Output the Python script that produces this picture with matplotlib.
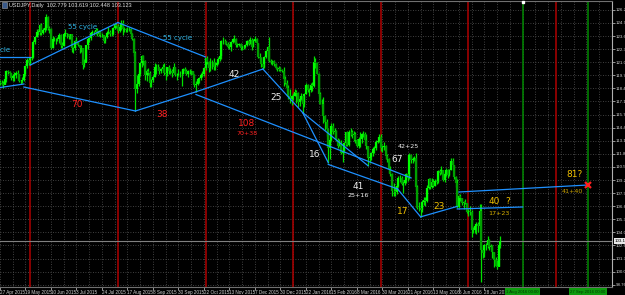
import numpy as np
import matplotlib
matplotlib.use('Agg')
from matplotlib import pyplot as plt
from matplotlib.transforms import blended_transform_factory

# Daily USDJPY bars, 27 Apr 2015 .. 12 Jul 2016, one row per week.
closes = [
    119.0, 118.9, 118.8, 119.4, 120.2,
    120.1, 120.0, 119.5, 119.7, 119.8,
    120.0, 119.9, 119.2, 119.2, 119.3,
    119.9, 120.7, 121.3, 121.0, 121.5,
    121.6, 123.1, 123.6, 124.1, 124.1,
    124.8, 124.0, 124.3, 124.5, 125.6,
    124.5, 124.4, 122.5, 123.4, 123.4,
    123.4, 123.4, 123.8, 122.8, 122.7,
    123.9, 124.0, 123.9, 123.7, 123.9,
    122.5, 122.5, 123.2, 123.1, 122.8,
    122.5, 122.5, 120.8, 121.0, 122.8,
    123.4, 123.5, 124.0, 124.1, 124.1,
    124.3, 123.9, 124.2, 123.8, 123.8,
    123.2, 123.6, 124.0, 124.1, 123.9,
    123.9, 124.5, 124.8, 124.7, 124.2,
    124.6, 125.0, 124.4, 124.4, 124.3,
    124.4, 124.4, 123.9, 123.4, 122.0,
    118.4, 118.9, 119.9, 121.0, 121.7,
    121.2, 119.8, 120.2, 120.0, 119.0,
    119.3, 119.6, 120.6, 120.6, 120.6,
    120.2, 120.4, 120.6, 120.0, 119.9,
    120.6, 120.2, 120.2, 120.0, 120.6,
    119.8, 119.8, 119.9, 119.9, 119.9,
    120.4, 120.2, 119.9, 120.2, 120.2,
    120.2, 119.8, 118.8, 118.9, 119.4,
    119.5, 119.8, 119.9, 120.5, 121.5,
    121.1, 120.5, 121.1, 121.1, 120.6,
    120.8, 121.0, 121.4, 121.7, 123.2,
    123.2, 123.2, 122.9, 122.6, 122.6,
    123.1, 123.4, 123.4, 122.8, 122.8,
    122.9, 122.5, 122.6, 122.6, 122.8,
    123.2, 122.9, 123.3, 122.6, 123.2,
    123.4, 123.0, 121.6, 121.5, 120.9,
    120.6, 121.6, 122.2, 122.6, 121.2,
    121.1, 121.2, 120.9, 120.5,
    120.4, 120.5, 120.3, 120.2,
    119.4, 119.0, 118.5, 117.7, 117.3,
    117.7, 117.7, 118.1, 118.0, 117.0,
    117.3, 117.7, 116.8, 117.9, 118.8,
    118.3, 118.3, 118.8, 118.7, 121.1,
    121.0, 119.9, 117.9, 116.8, 116.8,
    115.6, 115.0, 114.3, 112.4, 113.2,
    114.6, 114.0, 114.1, 113.2, 112.6,
    112.9, 111.9, 112.1, 112.9, 114.0,
    112.7, 114.0, 114.0, 113.7, 113.8,
    113.2, 112.6, 113.3, 113.3, 113.8,
    113.8, 113.2, 112.6, 111.4, 111.5,
    111.9, 112.3, 112.4, 113.0, 113.1,
    113.5, 112.4, 112.5, 112.6, 111.6,
    111.3, 110.3, 109.8, 108.1, 108.1,
    108.0, 108.6, 109.4, 109.4, 108.8,
    108.9, 109.2, 109.8, 109.4, 111.7,
    111.2, 111.3, 111.4, 108.5, 106.4,
    106.4, 106.2, 107.0, 107.2, 107.1,
    108.4, 109.3, 108.5, 109.0, 108.6,
    109.1, 109.0, 110.1, 109.9, 110.2,
    109.2, 109.8, 110.2, 109.7, 110.2,
    111.1, 110.7, 109.5, 108.9, 106.5,
    107.6, 107.4, 106.9, 107.0, 106.9,
    106.0, 106.1, 106.0, 104.2, 104.2,
    104.6, 104.8, 104.6, 106.1, 102.2,
    101.9, 102.7, 102.7, 103.2, 102.5,
    102.6, 102.0, 101.2, 100.6, 100.5,
    102.78, 103.12,
]
highs = [
    119.3, 119.3, 119.2, 119.9, 120.3,
    120.3, 120.2, 120.0, 119.9, 120.1,
    120.2, 120.3, 119.9, 119.3, 119.6,
    119.9, 120.8, 121.5, 121.4, 121.6,
    121.7, 123.3, 123.7, 124.4, 124.3,
    124.9, 125.0, 124.5, 124.7, 125.86,
    125.7, 124.7, 124.5, 123.7, 123.6,
    123.5, 123.6, 124.0, 123.9, 123.1,
    123.9, 124.4, 124.0, 123.9, 123.9,
    122.9, 122.6, 123.3, 123.6, 123.2,
    122.6, 122.8, 122.5, 121.4, 122.8,
    123.5, 123.6, 124.1, 124.3, 124.2,
    124.5, 124.5, 124.3, 124.2, 124.0,
    123.8, 123.7, 124.2, 124.6, 124.3,
    124.1, 124.6, 125.0, 125.0, 124.9,
    124.8, 125.3, 125.28, 124.6, 124.5,
    124.6, 124.6, 124.5, 124.0, 123.5,
    122.2, 119.8, 120.2, 121.1, 121.8,
    121.8, 121.3, 120.4, 120.5, 120.2,
    119.4, 119.8, 121.0, 120.9, 120.9,
    120.6, 120.5, 120.9, 121.0, 120.1,
    120.6, 120.8, 120.5, 120.4, 121.0,
    120.6, 120.0, 120.4, 120.2, 120.3,
    120.5, 120.6, 120.4, 120.3, 120.4,
    120.3, 120.2, 119.9, 119.2, 119.5,
    119.6, 120.0, 120.2, 120.6, 121.5,
    121.7, 121.2, 121.5, 121.3, 121.5,
    121.1, 121.2, 121.6, 121.8, 123.3,
    123.6, 123.4, 123.2, 123.1, 122.9,
    123.2, 123.5, 123.8, 123.5, 123.0,
    123.0, 123.0, 122.8, 122.7, 122.9,
    123.3, 123.4, 123.6, 123.5, 123.4,
    123.7, 123.5, 123.0, 122.0, 121.6,
    121.2, 121.7, 122.3, 122.7, 123.6,
    121.4, 121.3, 121.3, 121.0,
    120.6, 120.7, 120.6, 120.4,
    120.6, 119.7, 119.3, 118.8, 118.4,
    117.8, 118.0, 118.4, 118.3, 118.1,
    117.5, 118.0, 117.7, 118.0, 119.0,
    118.9, 118.5, 119.0, 119.1, 121.7,
    121.5, 121.1, 120.0, 118.1, 117.3,
    117.5, 115.7, 115.3, 114.0, 113.4,
    114.9, 114.9, 114.4, 114.2, 113.4,
    113.3, 113.2, 112.4, 113.0, 114.0,
    114.1, 114.2, 114.4, 114.2, 114.1,
    114.0, 113.3, 113.5, 114.0, 113.9,
    114.1, 114.0, 113.8, 112.6, 111.8,
    112.0, 112.5, 112.6, 113.2, 113.2,
    113.8, 113.8, 112.7, 113.0, 112.7,
    111.8, 111.4, 110.6, 109.9, 108.9,
    108.5, 108.9, 109.6, 109.7, 109.6,
    109.1, 109.4, 109.9, 109.9, 111.9,
    111.8, 111.5, 111.6, 111.9, 108.7,
    107.0, 106.6, 107.2, 107.5, 107.5,
    108.7, 109.4, 109.4, 109.4, 109.3,
    109.3, 109.3, 110.2, 110.3, 110.6,
    110.0, 109.9, 110.4, 110.3, 110.3,
    111.45, 111.4, 110.7, 109.6, 109.3,
    107.7, 107.8, 107.4, 107.1, 107.3,
    106.9, 106.3, 106.6, 106.2, 104.5,
    104.8, 105.0, 105.0, 106.8, 106.8,
    102.5, 102.8, 102.9, 103.6, 103.3,
    102.8, 102.7, 102.0, 101.5, 101.2,
    102.8, 103.62,
]
lows = [
    118.8, 118.8, 118.5, 118.9, 119.1,
    119.9, 119.7, 119.3, 119.2, 119.2,
    119.5, 119.5, 119.1, 118.9, 119.0,
    119.2, 119.7, 120.5, 120.8, 120.8,
    121.3, 121.5, 122.9, 123.6, 123.8,
    123.8, 123.8, 123.9, 124.1, 124.3,
    124.3, 124.0, 122.4, 122.5, 123.2,
    122.9, 123.2, 123.0, 122.5, 122.5,
    122.7, 123.7, 123.5, 123.4, 123.4,
    122.1, 122.0, 122.3, 123.0, 122.7,
    122.0, 122.1, 120.4, 120.6, 121.2,
    122.4, 123.1, 123.3, 123.8, 123.8,
    123.9, 123.7, 123.7, 123.6, 123.6,
    123.0, 123.0, 123.5, 123.9, 123.7,
    123.7, 123.8, 124.4, 124.5, 124.0,
    124.1, 124.3, 123.8, 124.1, 124.1,
    124.1, 124.2, 123.7, 123.3, 121.7,
    116.15, 118.0, 118.7, 119.7, 120.6,
    120.8, 119.3, 119.2, 119.8, 118.6,
    118.6, 119.1, 119.6, 119.9, 120.3,
    119.9, 120.0, 120.3, 119.8, 119.3,
    119.7, 119.9, 119.9, 119.6, 119.9,
    119.7, 119.3, 119.7, 119.6, 118.7,
    119.9, 120.0, 119.8, 119.6, 119.9,
    119.8, 119.6, 118.6, 118.07, 118.8,
    119.0, 119.3, 119.6, 119.7, 120.3,
    120.9, 120.1, 120.2, 120.4, 120.3,
    120.3, 120.7, 120.9, 121.2, 121.4,
    122.9, 122.9, 122.8, 122.5, 122.4,
    122.2, 123.0, 123.1, 122.6, 122.6,
    122.7, 122.3, 122.3, 122.4, 122.5,
    122.7, 122.8, 122.9, 122.3, 122.6,
    123.1, 122.8, 121.5, 121.3, 120.6,
    120.35, 120.5, 121.5, 121.9, 121.1,
    120.9, 120.8, 120.7, 120.4,
    120.2, 120.2, 120.2, 120.1,
    118.7, 118.9, 118.2, 117.3, 116.9,
    116.7, 117.2, 117.6, 116.9, 116.5,
    116.6, 117.2, 115.98, 116.5, 117.9,
    118.1, 117.7, 118.1, 118.2, 118.6,
    120.5, 119.9, 117.6, 116.8, 116.5,
    114.9, 114.2, 113.6, 110.98, 111.3,
    113.1, 113.8, 113.6, 113.1, 112.4,
    112.6, 111.8, 111.0, 111.9, 112.6,
    112.6, 112.6, 113.6, 113.4, 113.1,
    112.9, 112.5, 112.4, 112.5, 112.9,
    113.5, 113.0, 112.3, 110.67, 110.9,
    111.2, 111.6, 111.9, 112.2, 112.9,
    113.0, 112.1, 112.0, 112.2, 111.3,
    111.0, 109.9, 109.6, 107.67, 107.6,
    107.63, 107.8, 108.5, 109.0, 108.7,
    107.9, 108.7, 108.9, 109.1, 109.3,
    110.9, 110.9, 111.1, 108.2, 106.3,
    106.1, 105.55, 106.0, 106.7, 106.6,
    107.0, 108.3, 108.3, 108.4, 108.5,
    108.6, 108.8, 108.9, 109.7, 109.8,
    109.1, 109.0, 109.6, 109.4, 109.6,
    110.2, 110.5, 109.3, 108.5, 106.4,
    106.4, 107.1, 106.7, 106.3, 106.8,
    105.9, 105.6, 105.7, 103.55, 103.9,
    103.9, 103.8, 104.0, 104.4, 99.0,
    101.4, 101.5, 102.2, 102.4, 102.2,
    102.3, 101.4, 100.5, 100.6, 100.3,
    100.6, 102.45,
]
first_open = 119.1
current_price = 103.123

date_labels = ['27 Apr 2015', '19 May 2015', '10 Jun 2015', '3 Jul 2015', '24 Jul 2015',
               '17 Aug 2015', '8 Sep 2015', '30 Sep 2015', '22 Oct 2015', '13 Nov 2015',
               '7 Dec 2015', '30 Dec 2015', '22 Jan 2016', '15 Feb 2016', '8 Mar 2016',
               '30 Mar 2016', '21 Apr 2016', '13 May 2016', '6 Jun 2016', '28 Jun 2016']
date_label_bars = [0, 16, 32, 48, 64, 80, 96, 112, 128, 144, 160, 176, 192, 208, 224,
                   240, 256, 272, 288, 304]
price_ticks = [126.27, 124.96, 123.65, 122.34, 121.03, 119.72, 118.41, 117.10, 115.79,
               114.48, 113.17, 111.86, 110.55, 109.24, 107.93, 106.62, 105.31, 104.00,
               102.69, 101.38, 100.07, 98.76]

cycle_bars = [19, 74, 129, 184, 239, 294, 349]   # red lines, every 55 bars
target_bars = [328, 369]                         # green lines
target_labels = ['1 Aug 2016 00:00', '27 Sep 2016 00:00']

# Trend lines: (bar, price) -> (bar, price)
trend_lines = [
    ((0, 121.56), (19, 121.56)),
    ((0, 118.5), (15, 118.85)),
    ((15, 118.55), (85, 116.15)),
    ((19, 120.75), (74, 125.0)),
    ((74, 125.0), (129, 121.56)),
    ((85, 116.15), (123, 118.07)),
    ((123, 118.07), (165, 120.35)),
    ((123, 117.8), (258, 109.45)),
    ((165, 120.35), (190, 115.98)),
    ((190, 115.98), (206, 110.98)),
    ((190, 115.98), (231, 110.67)),
    ((206, 110.8), (249.5, 108.35)),
    ((249.5, 108.35), (264, 105.55)),
    ((264, 105.55), (287, 106.6)),
    ((287, 106.34), (328, 106.54)),
    ((288, 108.04), (369, 108.74)),
]

# Annotations: text, bar, price, colour, size, alignment
notes = [
    ('55 cycle', 6.6, 122.3, '#2fb4e6', 5, 'right'),
    ('55 cycle', 51.6, 124.56, '#2fb4e6', 5, 'center'),
    ('55 cycle', 111.6, 123.46, '#2fb4e6', 5, 'center'),
    ('70', 48.5, 116.75, '#ff2020', 6.5, 'center'),
    ('38', 101.6, 115.75, '#ff2020', 6.5, 'center'),
    ('108', 154.75, 114.85, '#ff2020', 6.5, 'center'),
    ('70+38', 154.75, 113.85, '#ff2020', 4.6, 'center'),
    ('42', 147.25, 119.85, '#f0f0f0', 6.5, 'center'),
    ('25', 173.5, 117.45, '#f0f0f0', 6.5, 'center'),
    ('16', 197.25, 111.75, '#f0f0f0', 6.5, 'center'),
    ('41', 224.8, 108.64, '#f0f0f0', 6.5, 'center'),
    ('25+16', 224.8, 107.64, '#f0f0f0', 4.6, 'center'),
    ('67', 249.1, 111.25, '#f0f0f0', 6.5, 'center'),
    ('42+25', 256.5, 112.55, '#f0f0f0', 4.6, 'center'),
    ('17', 253.0, 106.04, '#f0c000', 6.5, 'center'),
    ('23', 275.4, 106.54, '#f0c000', 6.5, 'center'),
    ('40', 310.0, 107.04, '#f0c000', 6.5, 'center'),
    ('?', 318.5, 107.04, '#f0c000', 6.5, 'center'),
    ('17+23', 313.0, 105.84, '#d8b000', 4.6, 'center'),
    ('81?', 360.4, 109.84, '#f0c000', 6.5, 'center'),
    ('41+40', 359.0, 108.04, '#c8a000', 4.6, 'center'),
]

bars = np.arange(len(closes))
closes = np.array(closes)
highs = np.array(highs)
lows = np.array(lows)
opens = np.r_[first_open, closes[:-1]]
up = closes >= opens

tiny = 'Liberation Sans'

fig = plt.figure(figsize=(6.25, 2.95), dpi=100, facecolor='black')
ax = fig.add_axes([0, 8 / 295, 612 / 625, 286 / 295], facecolor='black')
ax.set_xlim(1.625, 384.1)
ax.set_ylim(98.53, 127.16)

# grid
for p in price_ticks:
    ax.axhline(p, color='#555555', lw=0.6, ls=(0, (1, 2)), zorder=0)
for b in range(0, 385, 8):
    ax.axvline(b, color='#555555', lw=0.6, ls=(0, (1, 2)), zorder=0)

for b in cycle_bars:
    ax.axvline(b, color='#b00000', lw=1.1, zorder=1)
for b in target_bars:
    ax.axvline(b, color='#008a00', lw=1.1, zorder=1)

ax.axhline(current_price, color='#808080', lw=0.8, zorder=1)

# candles
ax.vlines(bars, lows, highs, color='#00e000', lw=0.9, zorder=2)
ax.vlines(bars[up], opens[up], closes[up], color='#00ff00', lw=1.6, zorder=3)
ax.vlines(bars[~up], closes[~up], opens[~up], color='#00a000', lw=1.6, zorder=3)

for (b0, p0), (b1, p1) in trend_lines:
    ax.plot([b0, b1], [p0, p1], color='#1e90ff', lw=0.9, zorder=4)

for text, b, p, col, size, ha in notes:
    ax.text(b, p, text, color=col, fontsize=size, ha=ha, va='center', zorder=5)

ax.plot(369, 108.74, marker='x', color='#ff2020', ms=5, mew=1.6, zorder=6)
ax.plot(328, 127.1, marker='s', color='white', ms=2, zorder=6, clip_on=False)

# axes and ticks
ax.spines['left'].set_visible(False)
ax.spines['right'].set_color('#b0b0b0')
ax.spines['top'].set_color('#707070')
ax.spines['bottom'].set_color('#707070')
for s in ax.spines.values():
    s.set_linewidth(0.8)

ax.yaxis.tick_right()
ax.set_yticks(price_ticks, ['%.2f' % p for p in price_ticks], fontfamily=tiny)
ax.tick_params(axis='y', colors='#d0d0d0', labelsize=3.2, length=2, width=0.5, pad=0.8)
ax.set_xticks(date_label_bars, date_labels, fontfamily=tiny)
ax.tick_params(axis='x', colors='#d0d0d0', labelsize=3.3, length=2, width=0.5, pad=0.5)
for t in ax.get_xticklabels():
    t.set_horizontalalignment('left')

# current price box on the price axis
ytrans = blended_transform_factory(ax.transAxes, ax.transData)
ax.text(1.004, current_price, '%.3f' % current_price, transform=ytrans, fontsize=3.2,
        fontfamily=tiny, color='black', ha='left', va='center',
        bbox=dict(boxstyle='square,pad=0.15', fc='#e8e8e8', ec='none'), clip_on=False)

# time labels of the green lines
xtrans = blended_transform_factory(ax.transData, ax.transAxes)
for b, lab in zip(target_bars, target_labels):
    ax.text(b, -0.009, lab, transform=xtrans, fontsize=3.1, fontfamily=tiny,
            color='#003a00', ha='center', va='top', clip_on=False,
            bbox=dict(boxstyle='square,pad=0.25', fc='#0e9a0e', ec='none'))

fig.text(9 / 625, 1 - 5 / 295, 'USDJPY,Daily  102.779 103.619 102.448 103.123',
         color='#e0e0e0', fontsize=4.0, fontfamily=tiny, va='center', ha='left')
fig.patches.append(plt.Rectangle((2 / 625, 1 - 8 / 295), 5 / 625, 6 / 295,
                                 transform=fig.transFigure, fc='#3a5a8a', ec='#a0a0a0',
                                 lw=0.4))

fig.savefig('out.png', dpi=100, facecolor='black')
